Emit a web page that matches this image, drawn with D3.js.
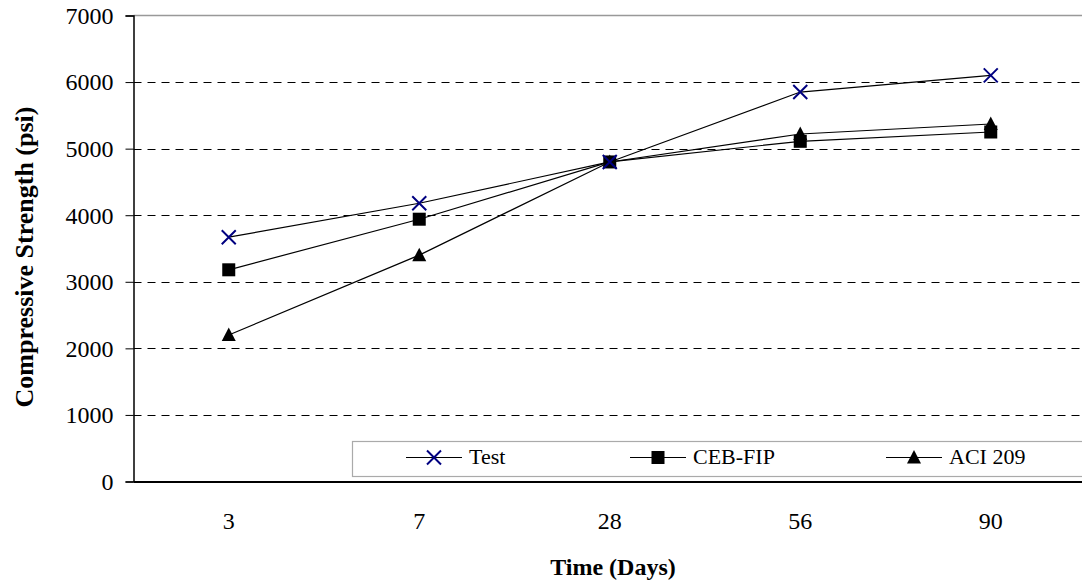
<!DOCTYPE html>
<html><head><meta charset="utf-8">
<script src="https://cdn.jsdelivr.net/npm/d3@7"></script>
<style>body{margin:0;background:#fff}svg{display:block}text{font-family:"Liberation Serif","Times New Roman",serif}</style>
</head><body>
<svg id="c" width="1082" height="584"></svg>
<script>
const categories = ["3", "7", "28", "56", "90"];
const testValues = [3670, 4180, 4800, 5850, 6100];
const cebValues = [3180, 3940, 4800, 5110, 5250];
const aciValues = [2200, 3400, 4800, 5220, 5370];
const yTicks = [0, 1000, 2000, 3000, 4000, 5000, 6000, 7000];
const seriesNames = ["Test", "CEB-FIP", "ACI 209"];

const FONT = "'Liberation Serif', 'Times New Roman', serif";
const svg = d3.select("#c");
const L = 133.5, R = 1086, T = 15.5, B = 481.5;
const x = d3.scaleBand().domain(categories).range([L, R]);
const y = d3.scaleLinear().domain([0, 7000]).range([B, T]);

// gridlines
svg.append("g").selectAll("line").data(yTicks.filter(d => d > 0 && d < 7000)).join("line")
  .attr("x1", L).attr("x2", R).attr("y1", d => Math.round(y(d)) + 0.5).attr("y2", d => Math.round(y(d)) + 0.5)
  .attr("stroke", "#000").attr("stroke-width", 1).attr("stroke-dasharray", "8,6");
// top border
svg.append("line").attr("x1", L).attr("x2", R).attr("y1", y(7000)).attr("y2", y(7000))
  .attr("stroke", "#999").attr("stroke-width", 1.5);

// y axis
const ya = svg.append("g").attr("transform", `translate(${L},0)`)
  .call(d3.axisLeft(y).tickValues(yTicks).tickSize(8).tickPadding(12).tickFormat(d3.format("d")));
ya.attr("font-family", FONT);
ya.select(".domain").attr("stroke", "#000").attr("stroke-width", 1.5);
ya.selectAll(".tick line").attr("stroke", "#000");
ya.selectAll("text").attr("font-size", 24).attr("fill", "#000").attr("dy", "0.33em").style("font-family", FONT);

// x axis
const xa = svg.append("g").attr("transform", `translate(0,${B})`)
  .call(d3.axisBottom(x).tickSize(0).tickPadding(30));
xa.attr("font-family", FONT);
xa.select(".domain").attr("stroke", "#000").attr("stroke-width", 2);
xa.selectAll("text").attr("font-size", 24).attr("fill", "#000").attr("dy", "0.71em").style("font-family", FONT);

// titles
svg.append("text").attr("x", 613).attr("y", 575).attr("text-anchor", "middle")
  .attr("font-size", 24).attr("font-weight", "bold").style("font-family", FONT).text("Time (Days)");
svg.append("text").attr("transform", "translate(33,257) rotate(-90)").attr("text-anchor", "middle")
  .attr("font-size", 26).attr("font-weight", "bold").style("font-family", FONT).text("Compressive Strength (psi)");

// legend box
svg.append("rect").attr("x", 352.5).attr("y", 441.5).attr("width", 740).attr("height", 35)
  .attr("fill", "#fff").attr("stroke", "#aaa").attr("stroke-width", 1.2);

const line = d3.line().x((d, i) => x(categories[i]) + x.bandwidth() / 2).y(d => y(d));
function drawMarker(g, type, cx, cy) {
  if (type === "x") {
    g.append("path").attr("d", "M-7,-7L7,7M-7,7L7,-7").attr("transform", `translate(${cx},${cy})`)
      .attr("fill", "none").attr("stroke", "#000080").attr("stroke-width", 2);
  } else if (type === "sq") {
    g.append("rect").attr("x", cx - 6.5).attr("y", cy - 6.5).attr("width", 13).attr("height", 13).attr("fill", "#000");
  } else {
    g.append("path").attr("d", "M0,-7.5L7,6L-7,6Z").attr("transform", `translate(${cx},${cy})`).attr("fill", "#000");
  }
}
const series = [
  {name: seriesNames[0], values: testValues, m: "x"},
  {name: seriesNames[1], values: cebValues, m: "sq"},
  {name: seriesNames[2], values: aciValues, m: "tri"}
];
const lg = svg.append("g");
series.forEach(s => {
  lg.append("path").attr("d", line(s.values)).attr("fill", "none").attr("stroke", "#000").attr("stroke-width", 1.2);
});
[series[2], series[1], series[0]].forEach(s => {
  s.values.forEach((v, i) => drawMarker(lg, s.m, x(categories[i]) + x.bandwidth() / 2, y(v)));
});

// legend items
const legX = [406, 630, 886];
series.forEach((s, i) => {
  const g = svg.append("g");
  g.append("line").attr("x1", legX[i]).attr("x2", legX[i] + 56).attr("y1", 457.5).attr("y2", 457.5).attr("stroke", "#000").attr("stroke-width", 1.2);
  drawMarker(g, s.m, legX[i] + 28, 457.5);
  g.append("text").attr("x", legX[i] + 63).attr("y", 464).attr("font-size", 22).style("font-family", FONT).text(s.name);
});
</script>
</body></html>
